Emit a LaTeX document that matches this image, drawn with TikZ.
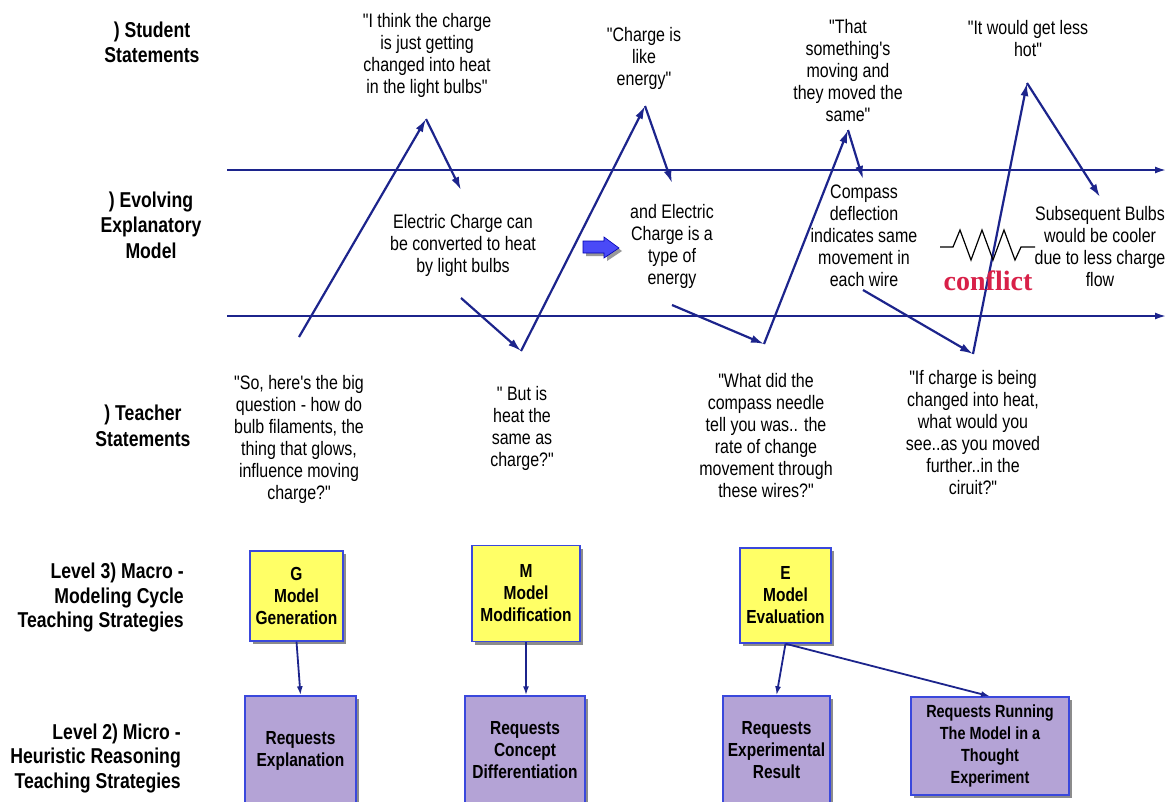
\documentclass[tikz,border=0pt]{standalone}
\usepackage{fontspec}
\setmainfont{Liberation Sans}[FakeStretch=0.82, Ligatures=TeXOff]
\newfontfamily\conffont{Liberation Serif}
\usetikzlibrary{arrows.meta,shadows}
\definecolor{navy}{RGB}{28,36,140}
\definecolor{boxblue}{RGB}{58,72,220}
\definecolor{ylw}{RGB}{255,255,102}
\definecolor{lav}{RGB}{180,163,214}
\definecolor{conf}{RGB}{216,32,72}
\definecolor{barrow}{RGB}{74,74,247}
\tikzset{
  every node/.style={inner sep=0pt},
  txt/.style={align=center, font=\fontsize{19.5}{22}\selectfont},
  lbl/.style={align=center, font=\bfseries\fontsize{21.5}{25.5}\selectfont},
  lblr/.style={align=right, font=\bfseries\fontsize{21.5}{24.5}\selectfont},
  zz/.style={draw=navy, line width=2.2pt, -{Latex[length=13pt,width=8pt]}},
  axisline/.style={draw=navy, line width=1.8pt, -{Latex[length=11pt,width=7pt]}},
  boxbase/.style={draw=boxblue, line width=1.4pt, align=center,
    font=\bfseries\fontsize{18.9}{22}\selectfont,
    drop shadow={shadow xshift=3pt, shadow yshift=-3pt, fill=black!45, opacity=1}},
  ybox/.style={boxbase, fill=ylw},
  pbox/.style={boxbase, fill=lav},
  link/.style={draw=navy, line width=1.8pt, -{Latex[length=9pt,width=6pt]}},
}
\begin{document}
\begin{tikzpicture}[x=1pt,y=-1pt]
\useasboundingbox[fill=white] (0,0) rectangle (1166,801);

% horizontal axes
\coordinate (a1s) at (227,170); \coordinate (a1e) at (1166,170);
\coordinate (a2s) at (227,316); \coordinate (a2e) at (1166,316);
\draw[axisline] (a1s) -- (a1e);
\draw[axisline] (a2s) -- (a2e);

% left labels
\node[lbl] (lstud) at (152,42.5) {) Student\\Statements};
\node[lbl] (lmod) at (151,225) {) Evolving\\Explanatory\\Model};
\node[lbl] (lteach) at (143,426) {) Teacher\\Statements};
\node[lblr, anchor=east] (lmacro) at (184,597.5) {Level 3) Macro -\\Modeling Cycle\\Teaching Strategies};
\node[lblr, anchor=east] (lmicro) at (181,758) {Level 2) Micro -\\Heuristic Reasoning\\Teaching Strategies};

% student statements
\node[txt] (s1) at (427,55) {"I think the charge\\is just getting\\changed into heat\\in the light bulbs"};
\node[txt] (s2) at (644,58) {"Charge is\\like\\energy"};
\node[txt] (s3) at (848,70.5) {"That\\something's\\moving and\\they moved the\\same"};
\node[txt] (s4) at (1028,39) {"It would get less\\hot"};

% model statements
\node[txt] (m1) at (463,245) {Electric Charge can\\be converted to heat\\by light bulbs};
\node[txt] (m2) at (672,246.5) {and Electric\\Charge is a\\type of\\energy};
\node[txt] (m3) at (864,236) {Compass\\deflection\\indicates same\\movement in\\each wire};
\node[txt] (m4) at (1100,246.5) {Subsequent Bulbs\\would be cooler\\due to less charge\\flow};

% teacher statements
\node[txt] (t1) at (299,439) {"So, here's the big\\question - how do\\bulb filaments, the\\thing that glows,\\influence moving\\charge?"};
\node[txt] (t2) at (522,428.5) {" But is\\heat the\\same as\\charge?"};
\node[txt] (t3) at (766,435.5) {"What did the\\compass needle\\tell you was.. the\\rate of change\\movement through\\these wires?"};
\node[txt] (t4) at (973,432.5) {"If charge is being\\changed into heat,\\what would you\\see..as you moved\\further..in the\\ciruit?"};

% zigzag connectors
\coordinate (p1) at (299,337);
\coordinate (p2) at (426,119);
\coordinate (p3) at (461,190);
\draw[zz] (p1) -- (p2);
\draw[zz] (p2) -- (p3);
\coordinate (q1) at (461,298);
\coordinate (q2) at (521,351);
\coordinate (q3) at (645,106);
\coordinate (q4) at (672,183);
\draw[zz] (q1) -- (q2);
\draw[zz] (q2) -- (q3);
\draw[zz] (q3) -- (q4);
\coordinate (r1) at (672,305);
\coordinate (r2) at (764,344);
\coordinate (r3) at (848,130);
\coordinate (r4) at (863,179);
\draw[zz] (r1) -- (r2);
\draw[zz] (r2) -- (r3);
\draw[zz] (r3) -- (r4);
\coordinate (u1) at (863,290);
\coordinate (u2) at (973,354);
\coordinate (u3) at (1027,83);
\coordinate (u4) at (1100,197);
\draw[zz] (u1) -- (u2);
\draw[zz] (u2) -- (u3);
\draw[zz] (u3) -- (u4);

% blue block arrow
\fill[black!40] (586,244) -- (607,244) -- (607,240) -- (622,251) -- (607,261) -- (607,256) -- (586,256) -- cycle;
\filldraw[fill=barrow, draw=blue!70!black, line width=0.6pt] (583,241) -- (604,241) -- (604,237) -- (619,248) -- (604,258) -- (604,253) -- (583,253) -- cycle;

% resistor symbol and conflict
\draw[black, line width=1.2pt, line join=miter] (940,247) -- (953,247) -- (960,230) -- (971,260) -- (982,230) -- (993,260) -- (1004,230) -- (1015,260) -- (1021,247) -- (1035,247);
\node[anchor=base, text=conf, font=\conffont\bfseries\fontsize{28}{30}\selectfont] (conflict) at (988,290) {conflict};

% macro boxes
\node[ybox, minimum width=93pt, minimum height=90pt] (G) at (296.5,596) {G\\Model\\Generation};
\node[ybox, minimum width=108pt, minimum height=96pt] (M) at (526,593.5) {M\\Model\\Modification};
\node[ybox, minimum width=91pt, minimum height=95pt] (E) at (785.5,595.5) {E\\Model\\Evaluation};

% micro boxes
\node[pbox, minimum width=111pt, minimum height=109pt] (RE) at (300.5,750.5) {Requests\\Explanation};
\node[pbox, minimum width=120pt, minimum height=109pt] (RC) at (525,750.5) {Requests\\Concept\\Differentiation};
\node[pbox, minimum width=107pt, minimum height=109pt] (RX) at (776.5,750.5) {Requests\\Experimental\\Result};
\node[pbox, minimum width=158pt, minimum height=98pt, font=\bfseries\fontsize{17.6}{22}\selectfont] (RT) at (990,746) {Requests Running\\The Model in a\\Thought\\Experiment};

% links
\draw[link] (G.south) -- (RE.north);
\draw[link] (M.south) -- (M.south |- RC.north);
\draw[link] (E.south) -- (RX.north);
\draw[link] (E.south) -- (RT.north);
\end{tikzpicture}
\end{document}
